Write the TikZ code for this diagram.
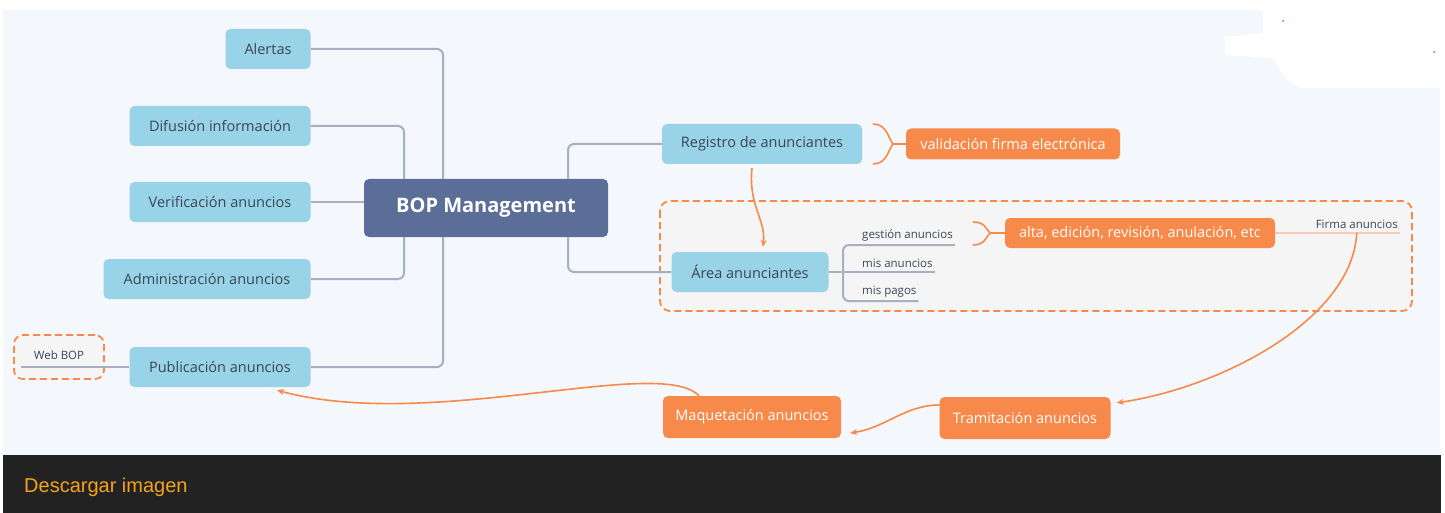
\documentclass[tikz,border=0pt]{standalone}
\usepackage{fontspec}
\setmainfont{Open Sans}
\newfontfamily\dlfont{Liberation Sans}
\usetikzlibrary{arrows.meta}
\definecolor{bgblue}{HTML}{F4F8FC}
\definecolor{nodeblue}{HTML}{99D3E7}
\definecolor{bopblue}{HTML}{5A6E98}
\definecolor{orng}{HTML}{F7894A}
\definecolor{lorng}{HTML}{F9CBAE}
\definecolor{conngray}{HTML}{A7B0C2}
\definecolor{txtgray}{HTML}{3A4655}
\definecolor{barblack}{HTML}{222222}
\definecolor{dlyellow}{HTML}{F5A31A}
\definecolor{areagray}{HTML}{F5F5F5}

\begin{document}
\begin{tikzpicture}[x=1pt,y=-1pt]

\tikzstyle{every node}=[font=\fontsize{14.5}{16}\selectfont, inner sep=2pt]
\tikzstyle{topic}=[fill=nodeblue, rounded corners=5pt, text=txtgray, minimum height=40pt]
\tikzstyle{task}=[fill=orng, rounded corners=5pt, text=white]
\tikzstyle{sublbl}=[font=\fontsize{11.5}{13}\selectfont, text=txtgray, inner ysep=4pt]
\tikzstyle{conn}=[draw=conngray, line width=2pt]
\tikzstyle{flow}=[draw=orng, line width=1.6pt, -{Stealth[length=7pt,width=6pt]}]
\tikzstyle{brk}=[draw=orng, line width=1.6pt]
\tikzstyle{dashbox}=[draw=orng, line width=1.8pt, dash pattern=on 7pt off 4pt, fill=areagray]

\useasboundingbox (0,0) rectangle (1445,513);

% background
\fill[white] (0,0) rectangle (1445,513);
\fill[bgblue] (3,10) rectangle (1440,455);
\fill[white] (1263,10) -- (1263,33) -- (1225,37) -- (1225,55) -- (1273,58) -- (1285,78) -- (1300,88) -- (1440,88) -- (1440,10) -- cycle;
\fill[red!70] (1283,21) circle (1pt) (1434,52) circle (1pt);
\fill[barblack] (3,455) rectangle (1441,513);
\node[font=\dlfont\fontsize{20}{22}\selectfont, text=dlyellow, anchor=west] (dl) at (22,487) {Descargar imagen};

% dashed groups
\draw[dashbox, rounded corners=10pt] (660,201) rectangle (1412,311);
\node[dashbox, rounded corners=9pt, minimum width=90pt, minimum height=44pt] (web) at (59,357) {};
\node[sublbl] (weblbl) at (59,355) {Web BOP};

% central topic
\node[fill=bopblue, rounded corners=5pt, text=white, minimum width=244pt, minimum height=58pt, font=\fontsize{20}{22}\selectfont\bfseries] (bop) at (486,208) {BOP Management};

% left topics
\node[topic, minimum width=85pt] (alertas) at (268,49) {Alertas};
\node[topic, minimum width=181pt] (difusion) at (220,126) {Difusión información};
\node[topic, minimum width=181pt] (verif) at (220,202) {Verificación anuncios};
\node[topic, minimum width=207pt] (admin) at (207,279) {Administración anuncios};
\node[topic, minimum width=181pt] (public) at (220,367) {Publicación anuncios};

% right topics
\node[topic, minimum width=200pt] (registro) at (762,144) {Registro de anunciantes};
\node[topic, minimum width=157pt] (area) at (750,272) {Área anunciantes};
\node[task, minimum width=214pt, minimum height=31pt] (valid) at (1013,144) {validación firma electrónica};
\node[task, minimum width=270pt, minimum height=30pt] (alta) at (1140,233) {alta, edición, revisión, anulación, etc};
\node[sublbl, anchor=south west] (gestion) at (860,245) {gestión anuncios};
\node[sublbl, anchor=south west] (misanun) at (860,272) {mis anuncios};
\node[sublbl, anchor=south west] (pagos) at (860,301) {mis pagos};
\node[sublbl, anchor=south east] (firma) at (1400,233) {Firma anuncios};

% process
\node[task, minimum width=178pt, minimum height=42pt] (maquet) at (752,417) {Maquetación anuncios};
\node[task, minimum width=171pt, minimum height=42pt] (trami) at (1025,418) {Tramitación anuncios};

% branches
\draw[conn, rounded corners=6pt] (alertas.east) -| ([xshift=-43pt]bop.north);
\draw[conn, rounded corners=6pt] (difusion.east) -| ([xshift=-82pt]bop.north);
\draw[conn] (verif.east) -- (verif.east -| bop.west);
\draw[conn, rounded corners=6pt] (admin.east) -| ([xshift=-82pt]bop.south);
\draw[conn, rounded corners=6pt] (public.east) -| ([xshift=-43pt]bop.south);
\draw[conn] (public.west) -- ([xshift=8pt,yshift=-10pt]web.west);
\draw[conn, rounded corners=6pt] ([xshift=82pt]bop.north) |- (registro.west);
\draw[conn, rounded corners=6pt] ([xshift=82pt]bop.south) |- (area.west);
\draw[conn] (area.east) -- (misanun.south east);
\draw[conn, rounded corners=6pt] (gestion.south east) -- (gestion.south west) -- ++(-17,0) |- (pagos.south east);
\draw[draw=lorng, line width=2pt] (alta.east) -- (firma.south east);

% brackets
\draw[brk] (873,124) .. controls (887,124) and (888,138) .. (893,144) .. controls (888,150) and (887,164) .. (873,164);
\draw[brk] (893,144) -- (valid.west);
\draw[brk] (973,222) .. controls (985,222) and (986,229) .. (990,233) .. controls (986,237) and (985,245) .. (973,245);
\draw[brk] (990,233) -- (alta.west);

% flow arrows
\draw[flow] ([xshift=-10pt,yshift=-4pt]registro.south) .. controls (748,205) and (766,220) .. ([xshift=13pt,yshift=5pt]area.north);
\draw[flow] (firma.south) .. controls (1352,320) and (1220,388) .. ([xshift=6pt,yshift=-6pt]trami.north east);
\draw[flow] ([yshift=13pt]trami.west) .. controls (905,405) and (885,428) .. ([xshift=9pt,yshift=-16pt]maquet.east);
\draw[flow] ([xshift=-53pt]maquet.north) .. controls (660,355) and (430,432) .. ([xshift=57pt,yshift=-3pt]public.south);

\end{tikzpicture}
\end{document}
